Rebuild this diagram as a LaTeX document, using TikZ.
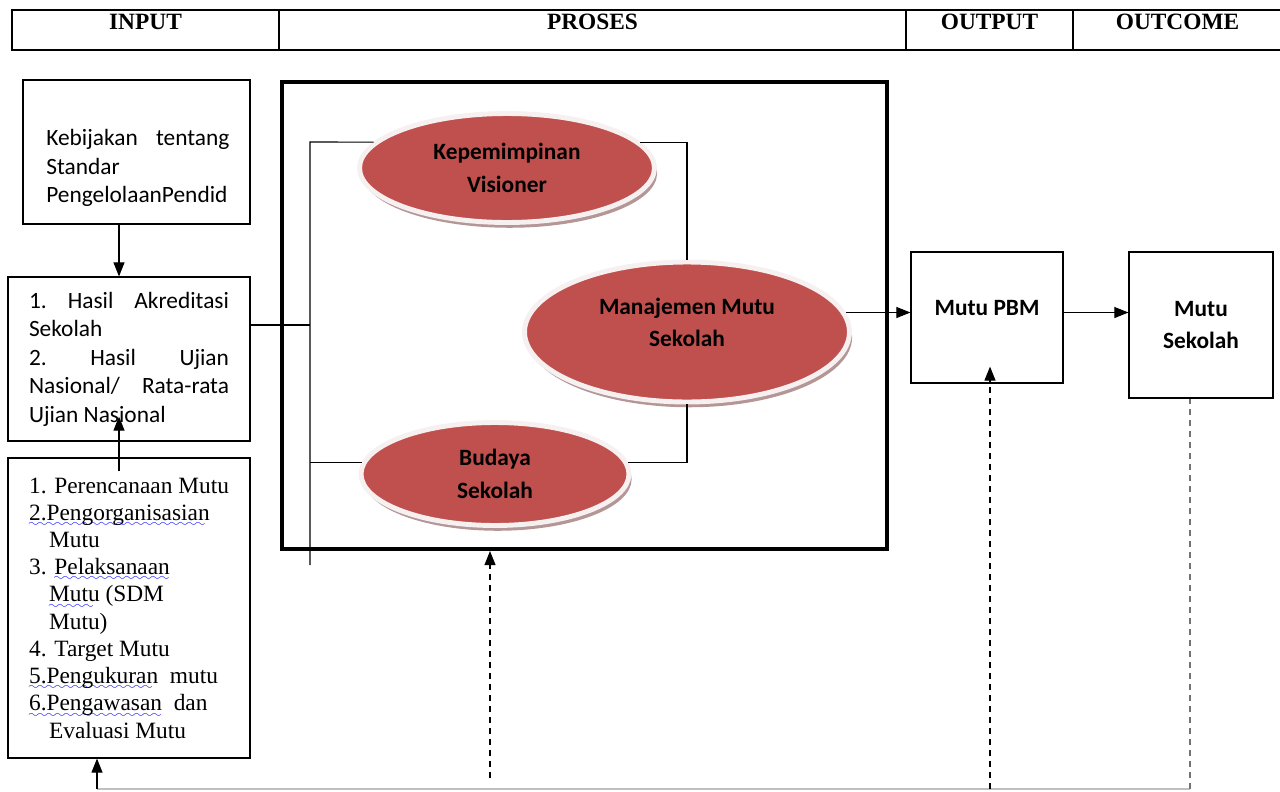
\documentclass[tikz,border=0pt]{standalone}
\usepackage{fontspec}
\setmainfont{Liberation Serif}
\newfontfamily\calibri{Carlito}
\usetikzlibrary{arrows.meta,shapes.geometric,shadows,calc}
\definecolor{ellred}{RGB}{192,80,77}
\definecolor{ellrim}{RGB}{246,240,240}
\definecolor{ellshade}{RGB}{150,105,105}
\font\wavefont=lasy6
\newsavebox\spellbox
\newcommand\spellerr[1]{\sbox\spellbox{#1}\leavevmode
  \rlap{\textcolor{blue}{\raisebox{-3.5pt}[0pt][0pt]{\hbox to \wd\spellbox{\leaders\hbox{\wavefont\char58}\hfill}}}}\usebox\spellbox}

\begin{document}
\begin{tikzpicture}
  [x=0.02cm, y=-0.02cm,
   arrowhd/.style={-{Triangle[length=0.28cm,width=0.22cm]}},
   hcell/.style={draw, line width=0.9pt, minimum height=0.8cm, inner sep=0pt,
     text height=0.31cm, text depth=0.32cm, font=\bfseries\fontsize{13.3}{16}\selectfont},
   box/.style={draw, line width=0.7pt, inner sep=0pt},
   sans/.style={font=\calibri\fontsize{13.3}{16.2}\selectfont},
   sansbold/.style={font=\calibri\bfseries\fontsize{13.3}{18.6}\selectfont},
   ell/.style={ellipse, fill=ellred, draw=ellrim, line width=2.8pt, align=center, inner sep=0pt,
     drop shadow={shadow xshift=1.5pt, shadow yshift=-3pt, fill=ellshade, opacity=0.7},
     font=\calibri\bfseries\fontsize{13.3}{18.4}\selectfont},
   link/.style={line width=0.6pt},
   fb/.style={line width=0.6pt, dash pattern=on 0.13cm off 0.09cm}]
  \useasboundingbox (0,0) rectangle (1280,791);

  \node[hcell, minimum width=5.34cm] (hInput) at (145.5,30) {INPUT};
  \node[hcell, minimum width=12.54cm] (hProses) at (592.5,30) {PROSES};
  \node[hcell, minimum width=3.34cm] (hOutput) at (989.5,30) {OUTPUT};
  \node[hcell, minimum width=4.18cm] (hOutcome) at (1177.5,30) {OUTCOME};

  \node[box, minimum width=4.54cm, minimum height=2.88cm] (kebijakan) at (136.5,152) {};
  \node[sans, anchor=west, align=left, inner sep=0pt] (kebijakanTxt) at (46,168)
    {\makebox[3.66cm]{Kebijakan\hfill tentang}\\Standar\\PengelolaanPendid};
  \node[box, sans, minimum width=4.84cm, minimum height=3.28cm, align=left] (hasil) at (129,359)
    {\makebox[4cm]{1.\hfill Hasil\hfill Akreditasi}\\Sekolah\\\makebox[4cm]{2.\hfill Hasil\hfill Ujian}\\
     \makebox[4cm]{Nasional/\hfill Rata-rata}\\Ujian Nasional};
  \node[box, minimum width=4.84cm, minimum height=6cm, align=left,
        font=\fontsize{13.3}{15.5}\selectfont] (rencana) at (129,608)
    {1. Perencanaan Mutu\\
     \spellerr{2.Pengorganisasian}\\
     \hspace*{0.4cm}Mutu\\
     3. \spellerr{Pelaksanaan\ }\\
     \hspace*{0.4cm}\spellerr{Mutu} (SDM\\
     \hspace*{0.4cm}Mutu)\\
     4. Target Mutu\\
     \spellerr{5.Pengukuran}\ \ mutu\\
     \spellerr{6.Pengawasan}\ \ dan\\
     \hspace*{0.4cm}Evaluasi Mutu};

  \node[draw, line width=2.4pt, minimum width=12.1cm, minimum height=9.34cm] (proses) at (584.5,315.5) {};
  \node[ell, minimum width=5.9cm, minimum height=2.18cm] (kep) at (507,168) {Kepemimpinan\\Visioner};
  \node[ell, minimum width=6.5cm, minimum height=2.8cm, text depth=0.4cm] (man) at (687,332) {Manajemen Mutu\\Sekolah};
  \node[ell, minimum width=5.36cm, minimum height=2.06cm] (bud) at (495,474) {Budaya\\Sekolah};

  \node[box, sansbold, minimum width=3.04cm, minimum height=2.62cm, text depth=0.4cm] (pbm) at (987,317.5) {Mutu PBM};
  \node[box, sansbold, minimum width=2.88cm, minimum height=2.92cm, align=center] (msek) at (1201,325) {Mutu\\Sekolah};

  \coordinate (ax) at (119,0);
  \coordinate (spTop) at (310,142);
  \coordinate (spBot) at (310,565);
  \coordinate (fbL) at (97,789);
  \coordinate (fbR) at (1190,789);
  \coordinate (fbP) at (490,778);
  \coordinate (fbO) at (990,789);

  \draw[link, arrowhd] (ax |- kebijakan.south) -- (ax |- hasil.north);
  \draw[link, arrowhd] ($(ax |- rencana.north)+(0,14)$) -- ($(ax |- hasil.south)+(0,-25)$);
  \draw[link] (hasil.east |- 0,325) -- (spTop |- 0,325);
  \draw[link] (kep.169) -- (spTop) -- (spBot);
  \draw[link] (bud.175) -- (bud.175 -| spTop);
  \draw[link] (kep.11) -| (man.north);
  \draw[link] (man.south) |- (bud.5);
  \draw[link, arrowhd] (man.7) -- (man.7 -| pbm.west);
  \draw[link, arrowhd] (pbm.east |- man.7) -- (msek.west |- man.7);

  \draw[line width=0.8pt, black!25] (fbL) -- (fbR);
  \draw[link, arrowhd] (fbL) -- (fbL |- rencana.south);
  \draw[fb, arrowhd] (fbP) -- (fbP |- proses.south);
  \draw[fb, arrowhd] (fbO) -- ($(fbO |- pbm.south)+(0,-17)$);
  \draw[fb, black!55] (fbR) -- (fbR |- msek.south);
\end{tikzpicture}
\end{document}
